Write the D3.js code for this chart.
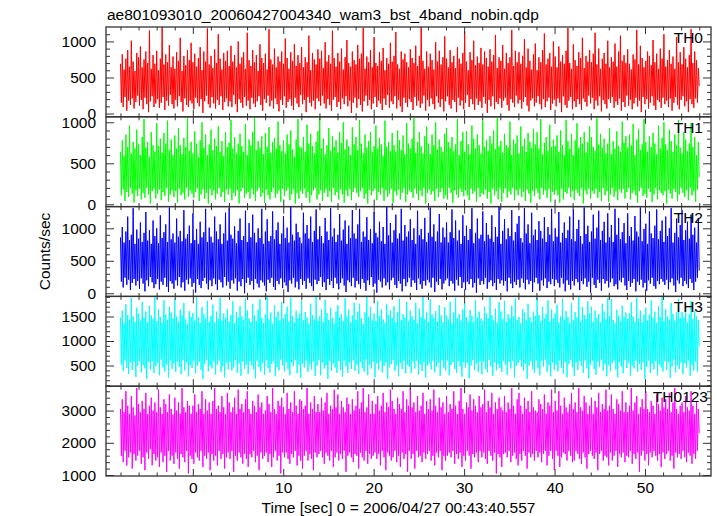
<!DOCTYPE html>
<html><head><meta charset="utf-8">
<script src="https://cdn.jsdelivr.net/npm/d3@7"></script>
<style>
body{margin:0;background:#fff}
svg{display:block}
text{font-family:"Liberation Sans",Arial,Helvetica,sans-serif;fill:#000}
</style></head>
<body><svg id="chart" width="717" height="516"></svg>
<script>
// ---------- data ----------
const titleText = "ae801093010_20060427004340_wam3_bst_4band_nobin.qdp";
const xLabelText = "Time [sec] 0 = 2006/04/27 00:43:40.557";
const yLabelText = "Counts/sec";
const timeRange = [-8, 56];
const xTickLabels = [0, 10, 20, 30, 40, 50];
const panelNames = ["TH0", "TH1", "TH2", "TH3", "TH0123"];
const yTickLabels = [[0, 500, 1000], [0, 500, 1000], [0, 500, 1000], [500, 1000, 1500], [1000, 2000, 3000]];
const yRanges = [[-45, 1200], [-28, 1067], [-48, 1334], [78, 1910], [970, 3757]];

// light-curve samples (counts/sec), evenly spaced over the time range
const th0 = [
690,150,820,90,610,230,760,40,880,180,650,120,1010,210,720,70,590,160,840,250,
780,110,930,190,640,60,750,220,860,130,700,20,1150,170,620,240,810,90,690,140,
870,200,600,80,760,150,1200,230,680,50,820,180,710,110,950,260,640,130,790,70,
620,190,850,100,730,240,1050,160,590,30,800,210,670,120,880,90,740,180,980,140,
710,60,830,220,650,150,770,100,920,200,600,10,860,170,720,250,1180,130,680,80,
800,230,630,140,890,70,700,190,1100,120,760,240,610,50,840,160,730,210,870,100,
660,170,940,90,720,260,810,130,640,20,1000,200,690,150,780,80,850,230,620,110,
1120,180,740,60,660,220,880,140,710,90,810,170,590,240,960,120,770,40,700,200,
830,150,610,250,1170,100,750,180,680,70,900,210,640,130,790,30,720,190,860,120,
690,240,1040,80,770,160,620,200,850,110,730,50,960,220,660,140,810,90,700,260,
920,130,640,190,780,20,710,230,1080,150,600,100,840,180,750,60,680,210,890,170,
760,110,870,250,630,140,990,70,720,200,810,120,690,40,1150,190,770,230,650,90,
840,160,720,60,900,210,610,130,780,240,1020,100,700,180,650,10,860,150,740,220,
680,80,950,200,760,120,830,30,1190,170,620,250,790,110,710,190,880,60,640,140,
1060,230,700,90,660,180,850,140,730,50,910,210,600,120,770,260,690,80,980,170,
720,130,800,240,1130,70,680,190,620,100,860,20,750,220,830,150,710,90,640,200,
890,160,770,50,700,230,940,110,660,180,800,80,1200,140,730,250,620,40,860,190,
650,100,830,210,740,130,610,60,990,240,720,150,870,90,680,200,780,30,1070,170,
760,240,640,120,880,70,710,190,800,160,630,20,920,220,760,110,690,180,840,60,
1140,150,720,260,600,90,850,200,740,130,1010,50,670,210,790,120,700,170,910,80,
680,230,860,140,770,10,650,190,890,100,720,240,810,60,1090,160,630,130,780,210,
730,80,950,180,620,220,840,120,700,40,780,200,1160,150,660,90,870,250,710,140,
850,190,690,70,800,160,1030,230,640,110,900,30,730,180,610,210,820,100,970,150,
600,240,780,130,710,60,880,200,1110,90,680,170,760,220,840,50,650,140,1000,190,
790,100,640,210,930,150,720,20,810,240,690,120,870,80,1190,180,700,230,620,60,
960,170,740,90,660,200,850,130,770,50,1050,210,630,160,800,100,720,250,880,140,
710,220,830,60,1120,180,680,110,900,240,620,30,760,190,840,130,690,70,1010,200,
640,150,780,230,720,80,970,170,650,120,860,210,1080,40,730,160,810,90,700,250,
890,110,690,190,610,60,820,140,750,220,1160,100,680,180,940,20,770,230,640,130,
730,200,860,70,800,150,670,240,1020,110,710,50,830,190,620,160,900,80,760,220,
1100,130,650,180,740,90,880,210,690,40,790,150,620,230,1060,120,710,60,850,190,
680,240,920,100,760,170,640,20,810,200,1170,130,700,80,860,210,740,150,630,380];

const th1 = [
640,110,780,180,590,40,850,150,700,90,960,200,620,130,760,20,680,170,910,100,
730,190,600,60,820,140,1040,80,690,200,760,120,580,10,880,160,720,190,640,70,
990,130,710,180,800,50,630,150,870,100,740,200,1020,30,660,120,790,170,600,90,
840,160,680,20,930,190,720,110,610,140,810,60,700,200,1050,90,650,170,760,130,
620,80,890,150,740,200,580,40,780,120,1000,180,690,70,850,140,600,10,730,190,
910,110,660,170,800,60,710,130,950,200,640,90,770,150,590,30,880,180,700,120,
750,190,1030,50,680,140,820,100,620,170,740,10,860,160,710,200,640,80,980,130,
600,150,790,70,720,190,880,120,1060,40,660,160,770,200,690,90,830,140,610,20,
870,180,700,110,940,60,630,150,760,200,810,80,680,130,1010,170,720,30,650,190,
780,100,620,160,850,200,730,50,900,120,670,180,580,10,790,140,1040,70,700,160,
690,130,820,190,640,80,970,150,740,20,860,110,710,170,620,200,760,60,890,120,
1050,170,680,40,800,140,610,190,720,90,930,160,650,30,830,200,700,110,780,150,
630,60,880,180,750,120,1000,20,670,170,790,100,710,190,600,50,940,150,730,200,
820,140,660,90,1030,160,740,200,620,70,850,130,690,10,770,180,880,110,640,160,
710,190,960,50,680,150,810,120,730,200,590,40,1020,170,700,90,760,130,650,190,
870,20,720,160,640,110,900,180,780,60,660,140,840,200,610,30,990,120,740,170,
680,150,800,80,1050,190,630,130,760,50,880,170,710,100,620,200,830,10,950,140,
740,180,610,120,850,160,720,40,1000,190,670,90,790,150,700,200,640,70,860,110,
930,60,760,200,690,140,820,20,650,170,730,120,1040,80,600,190,770,150,880,100,
640,170,890,110,730,50,610,190,960,130,800,160,680,30,850,200,720,90,620,140,
1020,120,700,180,780,70,650,150,830,10,740,190,900,110,670,160,1050,60,710,200,
770,30,630,140,860,190,720,80,690,160,1010,120,600,200,790,50,740,170,840,110,
620,190,950,90,710,150,800,40,640,180,870,130,760,20,690,160,920,100,730,190,
880,140,680,60,1040,200,610,120,750,170,820,80,650,190,970,30,700,150,790,120,
710,170,840,110,640,20,900,190,720,60,600,150,1030,130,770,200,680,90,860,160,
600,50,780,180,990,140,690,100,820,200,740,10,880,170,630,120,760,190,950,70,
820,160,700,130,650,190,1050,80,730,150,860,40,690,200,800,110,620,160,740,30,
930,120,610,200,770,90,680,160,890,50,710,180,640,140,1010,190,750,70,830,150,
690,200,850,60,720,140,980,170,600,110,790,20,920,160,660,200,730,100,1040,130,
760,80,640,190,830,150,700,30,870,120,740,200,610,60,960,170,680,140,810,110,
1000,160,730,10,660,180,910,130,770,70,640,190,850,150,720,40,1030,120,690,200,
620,140,880,90,790,170,650,50,740,200,990,110,700,160,820,30,600,180,760,330];

const th2 = [
860,180,1020,90,780,240,950,130,1180,210,820,50,900,160,1310,220,760,120,980,190,
840,70,1090,230,790,150,930,30,1250,200,810,110,970,250,760,170,1120,80,880,140,
1000,220,770,60,1200,180,850,130,940,240,1060,100,790,20,1320,190,830,150,920,70,
780,200,1150,120,870,250,960,90,800,170,1280,40,840,210,910,140,1040,230,770,100,
1230,160,820,10,990,220,760,130,1100,80,860,190,940,240,1300,150,790,60,1010,200,
870,110,780,230,1180,140,950,50,830,210,1060,170,760,90,920,250,1240,120,810,180,
1320,70,900,200,840,150,1030,230,770,40,960,180,1150,110,820,220,880,0,1270,160,
790,240,1080,130,860,190,1210,60,930,220,780,150,1000,90,850,200,1300,170,760,120,
950,30,1140,210,800,160,880,240,1260,100,830,50,970,190,1090,140,760,230,920,80,
1190,170,850,120,1010,20,780,200,1330,150,900,240,810,90,1070,180,940,60,860,220,
770,130,1240,190,920,70,1050,230,840,160,1180,110,790,40,960,210,1290,140,830,190,
1030,250,880,100,770,170,1160,50,950,220,820,130,1310,190,870,80,1000,240,790,150,
900,60,1220,160,810,230,980,120,1120,20,760,200,1040,170,850,110,1280,240,920,90,
840,190,1060,140,1300,70,790,220,950,160,870,40,1170,200,820,130,990,250,770,100,
1250,150,930,10,860,210,1100,180,800,90,1020,230,760,120,1330,170,890,60,1080,200,
780,240,970,130,1210,80,840,190,920,150,1300,30,810,220,1050,110,870,170,950,240,
1140,100,820,200,1000,160,760,50,1270,230,890,140,990,70,830,190,1160,120,790,210,
930,170,1320,90,870,240,1060,20,800,180,950,130,1220,220,780,60,1010,150,860,200,
1090,230,780,110,940,190,1290,150,850,40,1120,210,810,120,970,250,760,80,1200,170,
880,50,1040,180,820,140,990,220,1310,90,770,160,930,10,1150,230,840,130,900,190,
1260,140,800,240,1080,70,900,170,840,200,1200,110,790,160,1020,50,870,220,1330,150,
760,200,960,120,1140,190,830,30,1000,240,880,150,1280,80,810,180,940,130,1070,210,
1190,90,850,230,780,160,1310,60,920,210,1060,140,770,190,1240,20,890,170,980,240,
820,150,1110,40,960,200,840,120,1170,230,790,80,1020,180,900,140,1300,220,800,110,
1000,210,870,160,1250,90,780,240,930,150,1090,30,850,200,970,130,1180,60,830,190,
1290,120,800,220,990,170,1130,50,880,190,760,140,1320,230,910,100,1040,180,790,10,
950,240,1210,130,840,80,1010,210,1270,160,820,40,960,220,1100,150,780,190,1230,90,
860,170,1050,230,790,110,1300,140,900,60,1160,200,830,170,940,240,1080,120,770,50,
1230,190,880,100,1020,160,810,220,1190,30,950,180,870,130,1320,210,800,90,990,160,
1070,40,760,200,1260,150,920,240,850,110,1040,70,1290,190,830,140,960,220,1120,180,
790,130,1180,210,880,60,1000,170,1310,230,780,120,930,20,1150,200,860,150,1050,240,
1280,110,820,190,970,140,1100,80,840,220,1210,160,900,50,1010,180,780,240,1160,350];

const th3 = [
1480,520,1620,390,1360,600,1750,450,1530,330,1440,560,1880,410,1500,580,1390,270,1680,490,
1560,600,1420,360,1800,510,1470,440,1600,230,1380,570,1720,420,1520,590,1450,350,1900,480,
1410,550,1650,300,1490,620,1370,460,1830,380,1540,520,1430,250,1700,600,1580,430,1460,540,
1860,370,1500,580,1390,470,1640,320,1520,610,1780,400,1440,560,1350,280,1610,510,1490,450,
1570,600,1420,340,1900,490,1480,570,1370,410,1690,230,1550,530,1460,620,1820,380,1400,500,
1510,440,1740,590,1380,310,1600,520,1450,600,1880,370,1420,480,1560,260,1470,560,1650,420,
1400,570,1530,400,1810,460,1360,610,1590,350,1480,540,1710,290,1500,580,1430,430,1870,510,
1620,330,1460,590,1390,500,1760,420,1520,240,1410,600,1640,470,1850,380,1470,550,1370,310,
1540,610,1900,450,1440,360,1580,530,1350,590,1730,280,1490,470,1600,400,1420,620,1790,500,
1460,380,1550,570,1700,430,1400,300,1880,550,1510,490,1380,610,1620,340,1470,520,1560,250,
1830,540,1420,460,1590,600,1480,370,1360,520,1760,420,1530,580,1440,290,1900,500,1410,610,
1500,300,1650,560,1390,440,1840,510,1570,230,1430,590,1680,390,1470,540,1360,460,1600,350,
1730,590,1480,410,1550,270,1410,600,1870,480,1500,350,1640,560,1380,430,1520,610,1780,390,
1430,520,1600,330,1760,570,1460,450,1350,380,1580,620,1900,300,1490,510,1690,440,1420,580,
1560,260,1400,540,1820,420,1510,600,1640,360,1440,490,1370,570,1750,230,1530,460,1620,530,
1470,610,1710,390,1380,500,1590,280,1860,550,1420,430,1550,600,1480,340,1800,510,1400,470,
1620,350,1500,580,1430,440,1780,600,1360,310,1660,520,1490,390,1900,570,1450,250,1580,490,
1390,540,1850,420,1540,600,1470,360,1610,480,1400,560,1730,290,1520,610,1380,450,1690,400,
1520,600,1440,300,1800,510,1360,570,1580,430,1880,350,1460,590,1550,480,1420,270,1640,560,
1770,460,1490,550,1400,240,1630,500,1510,610,1390,410,1840,540,1480,370,1600,590,1450,320,
1410,580,1700,430,1560,360,1470,620,1900,480,1530,290,1420,560,1660,400,1380,530,1790,450,
1600,370,1450,600,1820,520,1390,310,1540,570,1460,440,1720,600,1510,260,1870,490,1430,550,
1490,610,1360,470,1650,390,1580,540,1420,230,1760,500,1480,580,1390,420,1600,350,1510,600,
1880,440,1530,300,1410,590,1700,480,1460,620,1550,370,1830,510,1400,280,1640,560,1470,410,
1560,520,1740,380,1380,600,1500,450,1860,330,1440,570,1610,260,1490,530,1370,610,1780,460,
1420,290,1590,560,1480,410,1900,590,1400,500,1690,350,1530,600,1450,440,1810,240,1560,520,
1700,600,1390,430,1620,310,1470,580,1550,470,1380,620,1760,390,1600,530,1440,280,1870,500,
1510,380,1850,550,1430,600,1360,420,1640,260,1520,570,1410,480,1720,340,1490,610,1580,450,
1450,560,1570,290,1790,500,1500,440,1390,600,1880,370,1460,530,1620,410,1380,570,1540,230,
1680,470,1420,600,1530,350,1830,540,1470,420,1600,590,1370,300,1710,520,1490,460,1900,380,
1400,590,1650,410,1510,570,1440,250,1770,480,1550,620,1420,360,1580,500,1860,430,1470,560,
1590,330,1480,540,1720,460,1380,600,1540,290,1820,510,1450,400,1610,580,1500,370,1430,900];

const th0123 = [
3050,1600,3350,1400,2950,1750,3600,1300,3150,1550,2900,1700,3450,1200,3100,1650,2850,1450,3700,1600,
3200,1750,2950,1350,3300,1550,3050,1150,3550,1700,2900,1500,3150,1800,3400,1300,3000,1650,3250,1450,
2950,1550,3650,1250,3100,1700,2900,1400,3350,1600,3200,1100,2950,1750,3500,1450,3050,1600,2880,1350,
3400,1700,3000,1500,3250,1200,2900,1650,3700,1550,3100,1400,2950,1750,3300,1050,3150,1600,2900,1500,
3150,1350,3500,1700,2950,1550,3200,1450,3050,1750,3600,1250,2900,1600,3350,1500,3000,1700,3250,1150,
2900,1650,3300,1450,3700,1600,3050,1300,3150,1750,2950,1500,3450,1650,3100,1200,2900,1550,3550,1700,
3250,1500,2950,1750,3100,1100,3400,1600,2900,1450,3650,1700,3050,1550,3200,1350,2950,1650,3350,1500,
3600,1250,3050,1650,2900,1550,3300,1750,3150,1400,2950,1600,3500,1150,3100,1700,3250,1500,2900,1600,
3000,1700,3450,1400,3200,1650,2950,1250,3700,1550,3050,1750,2900,1450,3300,1600,3150,1050,3400,1700,
3100,1550,2900,1700,3550,1500,3050,1350,3250,1650,2950,1550,3600,1750,3150,1300,2900,1600,3350,1450,
3300,1200,3050,1600,3150,1750,3700,1450,2900,1650,3250,1500,3050,1150,3450,1700,2950,1550,3200,1650,
2950,1750,3400,1550,3000,1350,3250,1700,3550,1600,2900,1450,3150,1750,3050,1250,3650,1550,3100,1700,
3500,1450,2900,1650,3300,1500,3100,1750,2950,1100,3400,1600,3200,1700,2900,1550,3350,1400,3000,1650,
3150,1600,3600,1200,3050,1700,3250,1550,3700,1450,2950,1750,3100,1350,3500,1650,2900,1500,3300,1600,
2900,1700,3200,1500,3450,1650,3000,1300,3150,1750,3550,1550,2950,1150,3250,1700,3100,1600,3650,1450,
3300,1550,3050,1750,2900,1400,3400,1600,3200,1250,3050,1700,3600,1500,2950,1650,3350,1100,3150,1750,
3700,1500,3100,1650,3250,1200,2950,1750,3450,1550,3000,1600,3150,1400,3550,1700,2900,1500,3300,1650,
3050,1750,3350,1450,3000,1600,3650,1300,3150,1700,2950,1550,3400,1750,3100,1150,3250,1600,2900,1450,
3450,1600,2950,1700,3200,1550,3050,1750,3600,1350,3150,1650,2900,1500,3300,1700,3700,1250,3050,1600,
2900,1450,3250,1750,3100,1600,3500,1200,3000,1650,3350,1550,3150,1700,2950,1400,3450,1750,3100,1550,
3200,1700,3650,1500,2950,1350,3300,1750,3100,1600,3550,1450,2900,1700,3250,1050,3050,1650,3400,1550,
3100,1250,3000,1650,3450,1700,2950,1550,3250,1750,3050,1400,3700,1600,3150,1700,2900,1500,3350,1300,
3550,1650,3150,1450,2900,1750,3400,1600,3050,1200,3300,1700,2950,1550,3600,1650,3100,1450,3000,1750,
2950,1550,3350,1700,3200,1400,3050,1650,3500,1750,2900,1300,3250,1600,3150,1750,3650,1500,2950,1150,
3300,1750,3000,1600,3600,1250,3150,1550,2900,1700,3400,1650,3100,1450,2950,1750,3200,1600,3550,1400,
3050,1450,3250,1750,2950,1650,3700,1500,3100,1350,3000,1700,3450,1550,3250,1200,2900,1650,3150,1750,
3400,1600,2900,1500,3300,1700,3100,1150,3550,1650,2950,1750,3200,1450,3050,1600,3650,1550,3000,1300,
3150,1700,3500,1450,3050,1600,2900,1750,3350,1250,3200,1650,3000,1550,3600,1700,2950,1400,3250,1600,
2950,1550,3150,1750,3700,1350,3000,1650,3250,1500,3450,1700,2900,1100,3100,1600,3350,1750,3050,1450,
3600,1650,3050,1300,2950,1700,3300,1550,3150,1750,2900,1600,3500,1450,3200,1650,3000,1250,3400,1700,
3100,1500,3350,1650,3050,1750,3550,1450,2950,1600,3250,1200,3700,1700,3050,1550,2900,1650,3150,1500,
3250,1750,2950,1550,3450,1400,3100,1700,3000,1600,3600,1350,3150,1650,2900,1500,3300,1750,3050,2300];

const seriesValues = [th0, th1, th2, th3, th0123];
const seriesColors = ["#ff0000", "#00ff00", "#0000ff", "#00ffff", "#ff00ff"];

// ---------- layout ----------
const svg = d3.select("#chart");
const L = 106, R = 711, T = 27, B = 476;
const nP = seriesValues.length;
const ph = (B - T) / nP;
const frameColor = "#333";
const fontSize = 15.5;

const x = d3.scaleLinear().domain([-9.6, 57.3]).range([L, R]);

svg.append("text").attr("x", 107).attr("y", 20).attr("font-size", fontSize).text(titleText);

seriesValues.forEach((vals, p) => {
  const top = T + p * ph, bot = top + ph;
  const y = d3.scaleLinear().domain(yRanges[p]).range([bot, top]);
  const idx = d3.scaleLinear().domain([0, vals.length - 1]).range(timeRange);

  const clipId = "clip" + p;
  svg.append("clipPath").attr("id", clipId).append("rect")
    .attr("x", L).attr("y", top).attr("width", R - L).attr("height", ph);

  const line = d3.line().x((d, i) => x(idx(i))).y(d => y(d));
  svg.append("path").datum(vals)
    .attr("clip-path", `url(#${clipId})`)
    .attr("fill", "none").attr("stroke", seriesColors[p])
    .attr("stroke-width", 1).attr("d", line);

  const yt = yTickLabels[p];
  const step = yt[1] - yt[0];
  const minorStep = step === 1000 ? 200 : 100;
  const minorVals = d3.range(Math.ceil(yRanges[p][0] / minorStep) * minorStep, yRanges[p][1], minorStep)
    .filter(v => v % step !== 0);
  const majorVals = d3.range(Math.ceil(yRanges[p][0] / step) * step, yRanges[p][1], step);

  const gl = svg.append("g").attr("transform", `translate(${L},0)`);
  gl.call(d3.axisLeft(y).tickValues(majorVals).tickSize(-8).tickPadding(10).tickFormat(d => yt.includes(d) ? d : ""));
  gl.append("g").call(d3.axisLeft(y).tickValues(minorVals).tickSize(-4).tickFormat(""));
  const gr = svg.append("g").attr("transform", `translate(${R},0)`);
  gr.call(d3.axisRight(y).tickValues(majorVals).tickSize(-8).tickFormat(""));
  gr.append("g").call(d3.axisRight(y).tickValues(minorVals).tickSize(-4).tickFormat(""));

  const xMajor = d3.range(0, 60, 10);
  const xMinor = d3.range(-8, 57, 2).filter(v => v % 10 !== 0);
  const gt = svg.append("g").attr("transform", `translate(0,${top})`);
  gt.call(d3.axisTop(x).tickValues(xMajor).tickSize(-7).tickFormat(""));
  gt.append("g").call(d3.axisTop(x).tickValues(xMinor).tickSize(-3.5).tickFormat(""));
  const gb = svg.append("g").attr("transform", `translate(0,${bot})`);
  gb.call(d3.axisBottom(x).tickValues(xMajor).tickSize(-7).tickPadding(6)
    .tickFormat(d => (p === nP - 1 && xTickLabels.includes(d)) ? d : ""));
  gb.append("g").call(d3.axisBottom(x).tickValues(xMinor).tickSize(-3.5).tickFormat(""));

  svg.append("rect").attr("x", L).attr("y", top).attr("width", R - L).attr("height", ph)
    .attr("fill", "none").attr("stroke", frameColor).attr("stroke-width", 1.3);

  svg.append("text").attr("x", p === nP - 1 ? 708 : 703).attr("y", top + 16)
    .attr("text-anchor", "end").attr("font-size", fontSize).text(panelNames[p]);
});

svg.selectAll(".domain").remove();
svg.selectAll(".tick line").attr("stroke", frameColor).attr("stroke-width", 1);
svg.selectAll(".tick text").attr("font-size", fontSize).attr("font-family", '"Liberation Sans",Arial,sans-serif').attr("fill", "#000");

svg.append("text").attr("x", (L + R) / 2 - 10).attr("y", 513).attr("text-anchor", "middle")
  .attr("font-size", fontSize).text(xLabelText);
svg.append("text").attr("transform", `translate(50,${(T + B) / 2}) rotate(-90)`)
  .attr("text-anchor", "middle").attr("font-size", fontSize).text(yLabelText);
</script></body></html>
